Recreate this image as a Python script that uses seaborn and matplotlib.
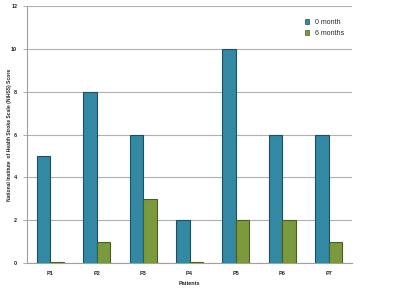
import matplotlib
matplotlib.use("Agg")
import matplotlib.pyplot as plt
import seaborn as sns
import pandas as pd
import numpy as np
from matplotlib.patches import Patch

patients = ["P1", "P2", "P3", "P4", "P5", "P6", "P7"]
month0 = [5, 8, 6, 2, 10, 6, 6]
month6 = [0.06, 1, 3, 0.06, 2, 2, 1]
series_names = ["0 month", "6 months"]
yticks = [0, 2, 4, 6, 8, 10, 12]

df = pd.DataFrame({
    "Patients": patients * 2,
    "Score": month0 + month6,
    "Period": [series_names[0]] * len(patients) + [series_names[1]] * len(patients),
})

sns.set_style("white")
plt.rcParams["font.family"] = ["Liberation Sans", "DejaVu Sans"]

fig = plt.figure(figsize=(4.0, 2.9), dpi=100)
ax = fig.add_axes([0.0675, 0.093, 0.8125, 0.886])

colors = {"0 month": "#3389A3", "6 months": "#7B9A3E"}
sns.barplot(data=df, x="Patients", y="Score", hue="Period", palette=colors,
            width=0.58, gap=0, ax=ax, legend=False, saturation=1)

edge = {"0 month": "#1d4f5e", "6 months": "#4a5e24"}
for container, name in zip(ax.containers, series_names):
    for bar in container:
        bar.set_edgecolor(edge[name])
        bar.set_linewidth(0.8)

ax.set_ylim(0, 12)
ax.set_xlim(-0.5, len(patients) - 0.5)
ax.set_yticks(yticks)
ax.set_yticklabels([str(t) for t in yticks], fontsize=4, fontweight="bold")
ax.set_xticks(range(len(patients)))
ax.set_xticklabels(patients, fontsize=4, fontweight="bold")
ax.set_xticks(np.arange(-0.5, len(patients), 1), minor=True)
ax.tick_params(axis="x", which="major", length=0, pad=6)
ax.tick_params(axis="x", which="minor", length=3, color="#a0a0a0", width=0.6)
ax.tick_params(axis="y", length=3, color="#a0a0a0", width=0.6, pad=4, left=True)
ax.yaxis.grid(True, color="#b0b0b0", linewidth=0.8)
ax.set_axisbelow(True)
for s in ["top", "right"]:
    ax.spines[s].set_visible(False)
for s in ["left", "bottom"]:
    ax.spines[s].set_color("#a0a0a0")
    ax.spines[s].set_linewidth(0.8)

ax.set_xlabel("Patients", fontsize=4, fontweight="bold", labelpad=3)
ax.set_ylabel("National Institute  of Health Stroke Scale (NIHSS) Score", fontsize=3.6,
              fontweight="bold")
ax.yaxis.set_label_coords(-0.046, 0.5)

handles = [Patch(facecolor=colors[n], edgecolor=edge[n], linewidth=0.5) for n in series_names]
ax.legend(handles, series_names, loc="upper left", bbox_to_anchor=(0.835, 0.975),
          frameon=False, fontsize=5, handlelength=0.7, handleheight=0.7,
          handletextpad=0.8, labelspacing=0.6)

fig.savefig("out.png", dpi=100)
